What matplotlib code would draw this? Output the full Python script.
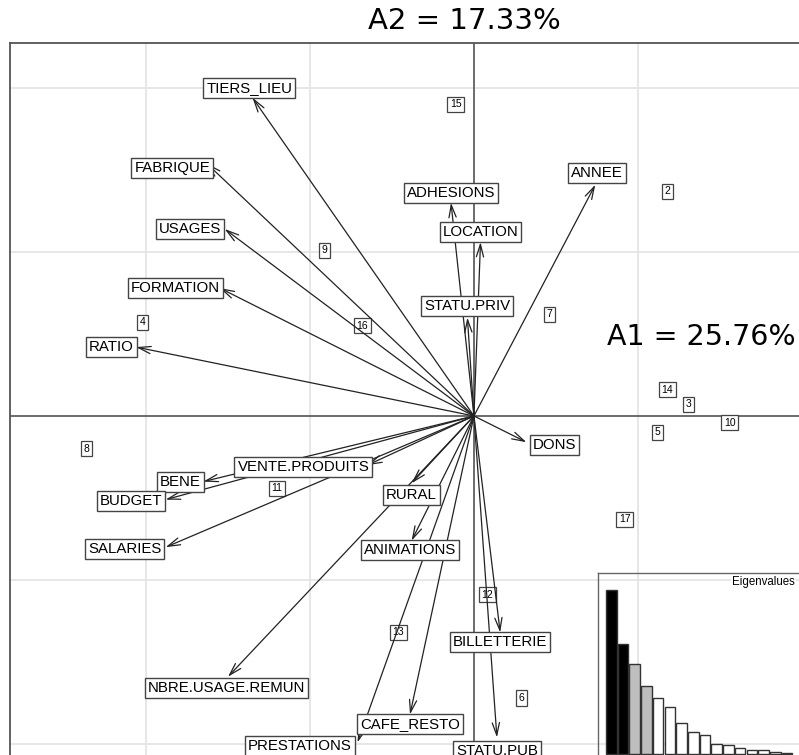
import matplotlib
matplotlib.use("Agg")
import matplotlib.pyplot as plt

plt.rcParams['font.family'] = 'Liberation Sans'

# variables: arrow tips and label centres (units of the factorial plane)
var_names = ['TIERS_LIEU', 'FABRIQUE', 'USAGES', 'FORMATION', 'RATIO',
             'ADHESIONS', 'LOCATION', 'STATU.PRIV', 'ANNEE', 'DONS',
             'RURAL', 'ANIMATIONS', 'VENTE.PRODUITS', 'BENE', 'BUDGET',
             'SALARIES', 'NBRE.USAGE.REMUN', 'CAFE_RESTO', 'PRESTATIONS',
             'BILLETTERIE', 'STATU.PUB']
var_x = [-1.35, -1.63, -1.52, -1.55, -2.06, -0.14, 0.04, -0.04, 0.74, 0.32,
         -0.38, -0.38, -0.65, -1.65, -1.88, -1.88, -1.50, -0.39, -0.71,
         0.16, 0.14]
var_y = [1.94, 1.54, 1.14, 0.78, 0.42, 1.30, 1.06, 0.60, 1.41, -0.16,
         -0.41, -0.76, -0.30, -0.40, -0.51, -0.80, -1.59, -1.82, -1.99,
         -1.32, -1.96]
lab_x = [-1.37, -1.84, -1.73, -1.82, -2.21, -0.14, 0.04, -0.04, 0.75, 0.49,
         -0.38, -0.39, -1.04, -1.79, -2.09, -2.13, -1.51, -0.39, -1.06,
         0.16, 0.14]
lab_y = [2.00, 1.51, 1.14, 0.78, 0.42, 1.36, 1.12, 0.67, 1.48, -0.18,
         -0.48, -0.82, -0.31, -0.40, -0.52, -0.81, -1.66, -1.88, -2.01,
         -1.38, -2.04]

# individuals
ind_names = ['15', '2', '9', '7', '16', '4', '14', '3', '10', '5', '8',
             '11', '17', '12', '13', '6']
ind_x = [-0.11, 1.18, -0.91, 0.46, -0.68, -2.02, 1.18, 1.31, 1.56, 1.12,
         -2.36, -1.20, 0.92, 0.08, -0.46, 0.29]
ind_y = [1.90, 1.37, 1.01, 0.62, 0.55, 0.57, 0.16, 0.07, -0.04, -0.10,
         -0.20, -0.44, -0.63, -1.09, -1.32, -1.72]

# eigenvalues (% of inertia)
eig = [25.76, 17.33, 14.1, 10.7, 8.8, 7.4, 4.9, 3.5, 3.0, 1.6, 1.4, 0.9,
       0.6, 0.6, 0.3, 0.1]
eig_cols = ['black', 'black', '#bebebe', '#bebebe'] + ['white'] * (len(eig) - 4)

W, H = 799, 755
fig = plt.figure(figsize=(W / 100, H / 100), dpi=100)
ax = fig.add_axes([10 / W, 0, 1 - 10 / W, 1 - 43 / H])
ax.set_xlim(-2.829, 1.982)
ax.set_ylim(-2.067, 2.274)
ax.set_xticks([-2, -1, 1])
ax.set_yticks([-2, -1, 1, 2])
ax.grid(True, color='#e3e3e3', lw=1.2)
ax.set_axisbelow(True)
ax.tick_params(length=0, labelbottom=False, labelleft=False)
for s in ['right', 'bottom']:
    ax.spines[s].set_visible(False)
for s in ['left', 'top']:
    ax.spines[s].set_color('#555555')
    ax.spines[s].set_linewidth(1.3)
ax.axhline(0, color='#444444', lw=1.1, zorder=1)
ax.axvline(0, color='#444444', lw=1.1, zorder=1)

for n, x, y in zip(ind_names, ind_x, ind_y):
    ax.text(x, y, n, fontsize=7.5, ha='center', va='center', zorder=2,
            bbox=dict(boxstyle='square,pad=0.25', fc='white', ec='#444444', lw=0.9))

for x, y in zip(var_x, var_y):
    ax.annotate('', xy=(x, y), xytext=(0, 0), zorder=3,
                arrowprops=dict(arrowstyle='->,head_length=0.45,head_width=0.13',
                                mutation_scale=20, color='#222222', lw=0.9,
                                shrinkA=0, shrinkB=0))

for n, x, y in zip(var_names, lab_x, lab_y):
    ax.text(x, y, n, fontsize=10.8, ha='center', va='center', zorder=4,
            bbox=dict(boxstyle='square,pad=0.2', fc='white', ec='#444444', lw=1.0))

fig.text(464 / W, 1 - 21 / H, 'A2 = 17.33%', family='DejaVu Sans',
         fontsize=21, ha='center', va='center')
fig.text(701 / W, 1 - 337 / H, 'A1 = 25.76%', family='DejaVu Sans',
         fontsize=20.5, ha='center', va='center')

# eigenvalue inset
ins = fig.add_axes([598 / W, 1 - 758 / H, 202 / W, (758 - 573) / H])
ins.patch.set_alpha(0)
ins.bar(range(len(eig)), eig, width=0.9, color=eig_cols,
        edgecolor='#333333', lw=1.0)
ins.set_xlim(-1.13, 16.1)
ins.set_ylim(-0.63, 28.43)
ins.set_xticks([])
ins.set_yticks([])
for s in ins.spines.values():
    s.set_color('#666666')
    s.set_linewidth(1.0)
fig.text(795 / W, 1 - 582 / H, 'Eigenvalues', fontsize=8.3, ha='right',
         va='center', bbox=dict(boxstyle='square,pad=0.1', fc='white', ec='none'))

fig.savefig('out.png', dpi=100)
